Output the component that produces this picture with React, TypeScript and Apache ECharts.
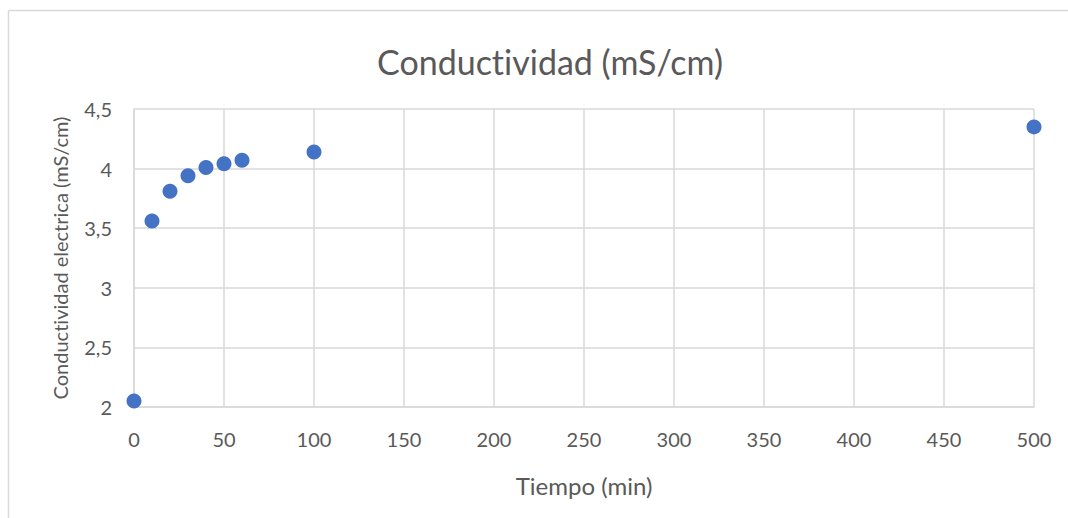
import React, { useEffect, useRef } from "react";
import * as echarts from "echarts";

const title = "Conductividad (mS/cm)";
const xAxisTitle = "Tiempo (min)";
const yAxisTitle = "Conductividad electrica (mS/cm)";
const tiempo = [0, 10, 20, 30, 40, 50, 60, 100, 500];
const conductividad = [2.05, 3.56, 3.81, 3.94, 4.01, 4.04, 4.07, 4.14, 4.35];

const FONT = "Lato, 'Open Sans', sans-serif";
const TXT = "#595959";
const GRID = "#D9D9D9";

export default function App() {
  const ref = useRef<HTMLDivElement>(null);
  useEffect(() => {
    document.body.style.margin = "0";
    const chart = echarts.init(ref.current!, undefined, { renderer: "svg" });
    chart.setOption({
      animation: false,
      backgroundColor: "#fff",
      title: {
        text: title,
        left: 545,
        textAlign: "center",
        top: 39,
        textStyle: { fontFamily: FONT, fontSize: 34, fontWeight: "normal", color: TXT },
      },
      graphic: [
        { type: "line", shape: { x1: 8.5, y1: 10.5, x2: 1068, y2: 10.5 }, style: { stroke: GRID, lineWidth: 1.5 } },
        { type: "line", shape: { x1: 8.5, y1: 10.5, x2: 8.5, y2: 518 }, style: { stroke: GRID, lineWidth: 1.5 } },
      ],
      grid: { left: 134, right: 34, top: 109, bottom: 111 },
      xAxis: {
        type: "value",
        min: 0,
        max: 500,
        interval: 50,
        name: xAxisTitle,
        nameLocation: "middle",
        nameGap: 66,
        nameTextStyle: { fontFamily: FONT, fontSize: 24, color: TXT },
        axisLine: { show: true, lineStyle: { color: GRID, width: 1.5 } },
        axisTick: { show: false },
        axisLabel: { fontFamily: FONT, fontSize: 20, color: TXT, margin: 22 },
        splitLine: { show: true, lineStyle: { color: GRID, width: 1.5 } },
      },
      yAxis: {
        type: "value",
        min: 2,
        max: 4.5,
        interval: 0.5,
        name: yAxisTitle,
        nameLocation: "middle",
        nameGap: 64,
        nameTextStyle: { fontFamily: FONT, fontSize: 20, color: TXT },
        axisLine: { show: true, lineStyle: { color: GRID, width: 1.5 } },
        axisTick: { show: false },
        axisLabel: {
          fontFamily: FONT,
          fontSize: 20,
          color: TXT,
          margin: 22,
          formatter: (v: number) => String(v).replace(".", ","),
        },
        splitLine: { show: true, lineStyle: { color: GRID, width: 1.5 } },
      },
      series: [
        {
          type: "scatter",
          data: tiempo.map((t, i) => [t, conductividad[i]]),
          symbolSize: 15,
          itemStyle: { color: "#4472C4", opacity: 1 },
          clip: false,
        },
      ],
    });
    return () => chart.dispose();
  }, []);
  return (
    <>
      <style>{"svg text { font-variant-ligatures: none !important; font-feature-settings: 'liga' 0, 'clig' 0 !important; }"}</style>
      <div ref={ref} style={{ width: 1068, height: 518 }} />
    </>
  );
}
